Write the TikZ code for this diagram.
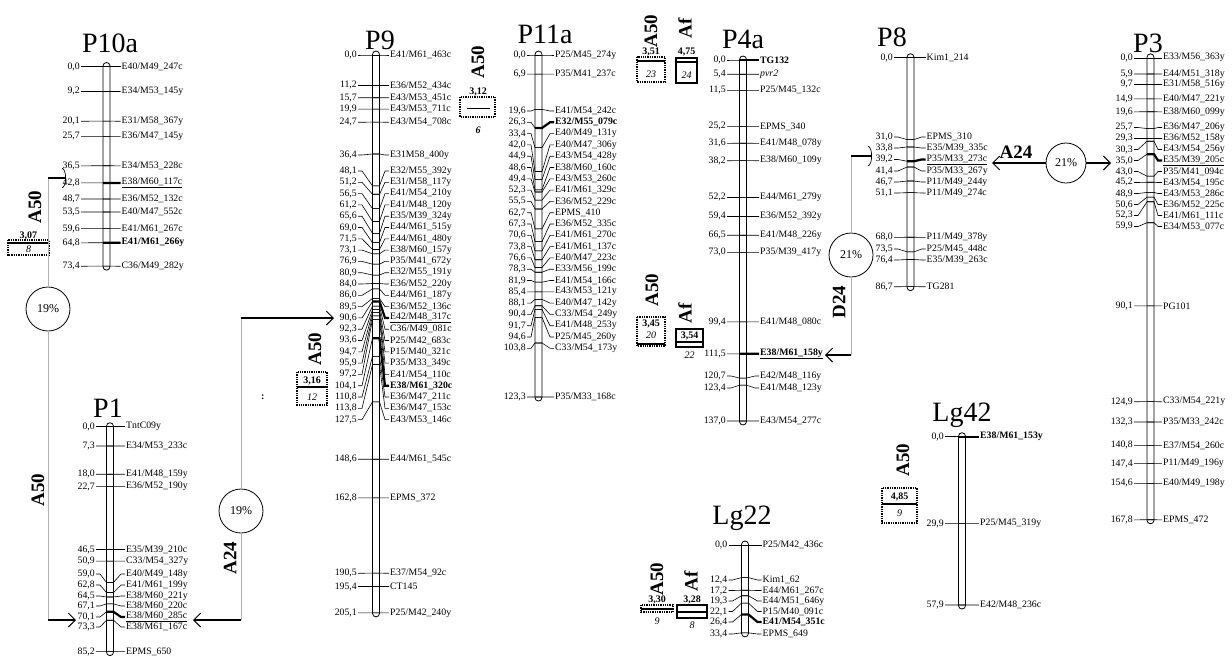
\documentclass[tikz,border=0pt]{standalone}
\usepackage{fontspec}
\setmainfont{Liberation Serif}
\usetikzlibrary{arrows.meta,calc}

\newcounter{mk}
% parametros del cromosoma: centro x, y del 0,0, px por cM, borde de las posiciones, inicio de los nombres
\newcommand{\setcrom}[5]{\def\cx{#1}\def\ctop{#2}\def\cesc{#3}\def\nx{#4}\def\lx{#5}}
% barra del cromosoma y su titulo
\newcommand{\crom}[4]{%
  \pgfmathsetmacro{\ybot}{\ctop+\cesc*#1}
  \draw[barra] (\cx-3.5,\ctop-4) rectangle (\cx+3.5,\ybot+4);
  \node[titulo] (t#4) at (#2,#3) {#4};
}
% marcador: [estilo] cM, y de la etiqueta, posicion, nombre
\newcommand{\mk}[5][]{%
  \pgfmathsetmacro{\ty}{\ctop+\cesc*#2}
  \draw[tick] (\nx+1,#3) -- (\nx+5,#3) -- (\cx-3.5,\ty) -- (\cx+3.5,\ty);
  \draw[tick,#1] (\cx-3.5,\ty) -- (\cx+3.5,\ty) -- (\lx-5,#3) -- (\lx-1,#3);
  \stepcounter{mk}
  \node[num] (n\themk) at (\nx,#3) {#4};
  \node[lab] (m\themk) at (\lx,#3) {#5};
}

\tikzset{
  barra/.style={draw,line width=0.8pt,fill=white,rounded corners=3.5pt},
  tick/.style={line width=0.6pt},
  grueso/.style={line width=2.2pt},
  num/.style={anchor=east,inner sep=0pt,font=\fontsize{9.8}{10}\selectfont},
  lab/.style={anchor=west,inner sep=0pt,font=\fontsize{9.8}{10}\selectfont},
  titulo/.style={inner sep=0pt,font=\fontsize{28}{30}\selectfont},
  qtl/.style={rotate=90,inner sep=0pt,font=\bfseries\fontsize{19}{20}\selectfont},
  pct/.style={draw,circle,fill=white,line width=0.8pt,minimum size=44pt,inner sep=0pt,font=\fontsize{12}{12}\selectfont},
  lod/.style={inner sep=0pt,font=\bfseries\fontsize{10}{10}\selectfont},
  npos/.style={inner sep=0pt,font=\itshape\fontsize{10}{10}\selectfont},
  cajap/.style={draw,densely dotted,line width=1.3pt},
  cajaf/.style={draw,line width=1.1pt},
  lodl/.style={line width=2pt},
  flecha/.style={line width=1.6pt},
}

\begin{document}
\begin{tikzpicture}[x=1pt,y=-1pt]
    \colorlet{lineagris}{gray!60}
    \fill[white] (0,0) rectangle (1232,657);
    \useasboundingbox (0,0) rectangle (1232,657);

    % Cromosoma P10a
    \setcrom{106.5}{66.5}{2.72}{80}{121.5}
    \crom{73.4}{110}{43}{P10a}
    \mk{0}{66.5}{0,0}{E40/M49\_247c}
    \mk{9.2}{91.5}{9,2}{E34/M53\_145y}
    \mk{20.1}{121.2}{20,1}{E31/M58\_367y}
    \mk{25.7}{136.4}{25,7}{E36/M47\_145y}
    \mk{36.5}{165.8}{36,5}{E34/M53\_228c}
    \mk[grueso]{42.8}{182.9}{42,8}{\underline{E38/M60\_117c}}
    \mk{48.7}{199}{48,7}{E36/M52\_132c}
    \mk{53.5}{212}{53,5}{E40/M47\_552c}
    \mk{59.6}{228.6}{59,6}{E41/M61\_267c}
    \mk[grueso]{64.8}{242.8}{64,8}{\textbf{E41/M61\_266y}}
    \mk{73.4}{266.2}{73,4}{C36/M49\_282y}

    % Cromosoma P1
    \setcrom{110}{426.7}{2.64}{95}{126}
    \crom{85.2}{108}{408}{P1}
    \mk{0}{426.7}{0,0}{TntC09y}
    \mk{7.3}{446}{7,3}{E34/M53\_233c}
    \mk{18.0}{474.2}{18,0}{E41/M48\_159y}
    \mk{22.7}{486.6}{22,7}{E36/M52\_190y}
    \mk{46.5}{549.5}{46,5}{E35/M39\_210c}
    \mk{50.9}{561.1}{50,9}{C33/M54\_327y}
    \mk{59.0}{574}{59,0}{E40/M49\_148y}
    \mk{62.8}{585}{62,8}{E41/M61\_199y}
    \mk{64.5}{596}{64,5}{E38/M60\_221y}
    \mk{67.1}{606}{67,1}{E38/M60\_220c}
    \mk[grueso]{70.1}{617}{70,1}{\underline{E38/M60\_285c}}
    \mk{73.3}{627}{73,3}{E38/M61\_167c}
    \mk{85.2}{651.6}{85,2}{EPMS\_650}

    % Cromosoma P9
    \setcrom{376}{55}{2.72}{357}{390}
    \crom{205.1}{380}{40}{P9}
    \mk{0}{55}{0,0}{E41/M61\_463c}
    \mk{11.2}{85.5}{11,2}{E36/M52\_434c}
    \mk{15.7}{97.7}{15,7}{E43/M53\_451c}
    \mk{19.9}{109.1}{19,9}{E43/M53\_711c}
    \mk{24.7}{122.2}{24,7}{E43/M54\_708c}
    \mk{36.4}{155}{36,4}{E31M58\_400y}
    \mk{48.1}{171}{48,1}{E32/M55\_392y}
    \mk{51.2}{182.3}{51,2}{E31/M58\_117y}
    \mk{56.5}{193.6}{56,5}{E41/M54\_210y}
    \mk{61.2}{204.9}{61,2}{E41/M48\_120y}
    \mk{65.6}{216.2}{65,6}{E35/M39\_324y}
    \mk{69.0}{227.5}{69,0}{E44/M61\_515y}
    \mk{71.5}{238.8}{71,5}{E44/M61\_480y}
    \mk{73.1}{250.1}{73,1}{E38/M60\_157y}
    \mk{76.9}{261.4}{76,9}{P35/M41\_672y}
    \mk{80.9}{272.7}{80,9}{E32/M55\_191y}
    \mk{84.0}{284}{84,0}{E36/M52\_220y}
    \mk{86.0}{295.3}{86,0}{E44/M61\_187y}
    \mk{89.5}{306.6}{89,5}{E36/M52\_136c}
    \mk[grueso]{90.6}{317.9}{90,6}{\underline{E42/M48\_317c}}
    \mk{92.3}{329.2}{92,3}{C36/M49\_081c}
    \mk{93.6}{340.5}{93,6}{P25/M42\_683c}
    \mk{94.7}{351.8}{94,7}{P15/M40\_321c}
    \mk{95.9}{363.1}{95,9}{P35/M33\_349c}
    \mk{97.2}{374.4}{97,2}{E41/M54\_110c}
    \mk[grueso]{104.1}{385.7}{104,1}{\textbf{E38/M61\_320c}}
    \mk{110.8}{397}{110,8}{E36/M47\_211c}
    \mk{113.8}{408.3}{113,8}{E36/M47\_153c}
    \mk{127.5}{419.6}{127,5}{E43/M53\_146c}
    \mk{148.6}{459.2}{148,6}{E44/M61\_545c}
    \mk{162.8}{497.8}{162,8}{EPMS\_372}
    \mk{190.5}{573.2}{190,5}{E37/M54\_92c}
    \mk{195.4}{586.5}{195,4}{CT145}
    \mk{205.1}{612.9}{205,1}{P25/M42\_240y}

    % Cromosoma P11a
    \setcrom{538.5}{55}{2.774}{526}{555}
    \crom{123.3}{545}{34}{P11a}
    \mk{0}{55}{0,0}{P25/M45\_274y}
    \mk{6.9}{74.1}{6,9}{P35/M41\_237c}
    \mk{19.6}{111}{19,6}{E41/M54\_242c}
    \mk[grueso]{26.3}{122.3}{26,3}{\textbf{E32/M55\_079c}}
    \mk{33.4}{133.6}{33,4}{E40/M49\_131y}
    \mk{42.0}{144.9}{42,0}{E40/M47\_306y}
    \mk{44.9}{156.2}{44,9}{E43/M54\_428y}
    \mk{48.6}{167.5}{48,6}{E38/M60\_160c}
    \mk{49.4}{178.8}{49,4}{E43/M53\_260c}
    \mk{52.3}{190.1}{52,3}{E41/M61\_329c}
    \mk{55.5}{201.4}{55,5}{E36/M52\_229c}
    \mk{62.7}{212.7}{62,7}{EPMS\_410}
    \mk{67.3}{224}{67,3}{E36/M52\_335c}
    \mk{70.6}{235.3}{70,6}{E41/M61\_270c}
    \mk{73.8}{246.6}{73,8}{E41/M61\_137c}
    \mk{76.6}{257.9}{76,6}{E40/M47\_223c}
    \mk{78.3}{269.2}{78,3}{E33/M56\_199c}
    \mk{81.9}{280.5}{81,9}{E41/M54\_166c}
    \mk{85.4}{291.8}{85,4}{E43/M53\_121y}
    \mk{88.1}{303.1}{88,1}{E40/M47\_142y}
    \mk{90.4}{314.4}{90,4}{C33/M54\_249y}
    \mk{91.7}{325.7}{91,7}{E41/M48\_253y}
    \mk{94.6}{337}{94,6}{P25/M45\_260y}
    \mk{103.8}{348.3}{103,8}{C33/M54\_173y}
    \mk{123.3}{397}{123,3}{P35/M33\_168c}

    % Cromosoma P4a
    \setcrom{743}{60}{2.635}{726}{760}
    \crom{137}{743}{39}{P4a}
    \mk[grueso]{0}{60}{0,0}{\textbf{TG132}}
    \mk{5.4}{74.2}{5,4}{\textit{pvr2}}
    \mk{11.5}{90.3}{11,5}{P25/M45\_132c}
    \mk{25.2}{126.4}{25,2}{EPMS\_340}
    \mk{31.6}{143.3}{31,6}{E41/M48\_078y}
    \mk{38.2}{160.7}{38,2}{E38/M60\_109y}
    \mk{52.2}{197.5}{52,2}{E44/M61\_279y}
    \mk{59.4}{216.5}{59,4}{E36/M52\_392y}
    \mk{66.5}{235.2}{66,5}{E41/M48\_226y}
    \mk{73.0}{252.4}{73,0}{P35/M39\_417y}
    \mk{99.4}{321.9}{99,4}{E41/M48\_080c}
    \mk[grueso]{111.5}{353.8}{111,5}{\textbf{\underline{E38/M61\_158y}}}
    \mk{120.7}{376}{120,7}{E42/M48\_116y}
    \mk{123.4}{388}{123,4}{E41/M48\_123y}
    \mk{137.0}{421}{137,0}{E43/M54\_277c}

    % Cromosoma P8
    \setcrom{910.5}{57.7}{2.641}{893}{926.5}
    \crom{86.7}{892}{37}{P8}
    \mk{0}{57.7}{0,0}{Kim1\_214}
    \mk{31.0}{137}{31,0}{EPMS\_310}
    \mk{33.8}{148}{33,8}{E35/M39\_335c}
    \mk[grueso]{39.2}{159.5}{39,2}{\underline{P35/M33\_273c}}
    \mk{41.4}{171}{41,4}{P35/M33\_267y}
    \mk{46.7}{182}{46,7}{P11/M49\_244y}
    \mk{51.1}{193}{51,1}{P11/M49\_274c}
    \mk{68.0}{237.3}{68,0}{P11/M49\_378y}
    \mk{73.5}{249}{73,5}{P25/M45\_448c}
    \mk{76.4}{260}{76,4}{E35/M39\_263c}
    \mk{86.7}{286.7}{86,7}{TG281}

    % Cromosoma P3
    \setcrom{1150.5}{57.8}{2.753}{1133}{1163}
    \crom{167.8}{1148}{43}{P3}
    \mk{0}{57.8}{0,0}{E33/M56\_363y}
    \mk{5.9}{74}{5,9}{E44/M51\_318y}
    \mk{9.7}{84.5}{9,7}{E31/M58\_516y}
    \mk{14.9}{98.8}{14,9}{E40/M47\_221y}
    \mk{19.6}{111.8}{19,6}{E38/M60\_099y}
    \mk{25.7}{127.5}{25,7}{E36/M47\_206y}
    \mk{29.3}{138.5}{29,3}{E36/M52\_158y}
    \mk{30.3}{149.5}{30,3}{E43/M54\_256y}
    \mk[grueso]{35.0}{160.5}{35,0}{\underline{E35/M39\_205c}}
    \mk{43.0}{171.5}{43,0}{P35/M41\_094c}
    \mk{45.2}{182.5}{45,2}{E43/M54\_195c}
    \mk{48.9}{193.5}{48,9}{E43/M53\_286c}
    \mk{50.6}{204.5}{50,6}{E36/M52\_225c}
    \mk{52.3}{215.5}{52,3}{E41/M61\_111c}
    \mk{59.9}{226.5}{59,9}{E34/M53\_077c}
    \mk{90.1}{305.8}{90,1}{PG101}
    \mk{124.9}{401.7}{124,9}{C33/M54\_221y}
    \mk{132.3}{422}{132,3}{P35/M33\_242c}
    \mk{140.8}{445.4}{140,8}{E37/M54\_260c}
    \mk{147.4}{463.6}{147,4}{P11/M49\_196y}
    \mk{154.6}{483.4}{154,6}{E40/M49\_198y}
    \mk{167.8}{519.8}{167,8}{EPMS\_472}

    % Cromosoma Lg42
    \setcrom{962}{436.7}{2.907}{944}{980}
    \crom{57.9}{962}{415}{Lg42}
    \mk[grueso]{0}{436.7}{0,0}{\textbf{E38/M61\_153y}}
    \mk{29.9}{523.6}{29,9}{P25/M45\_319y}
    \mk{57.9}{605}{57,9}{E42/M48\_236c}

    % Cromosoma Lg22
    \setcrom{745}{545}{2.63}{727.5}{762.5}
    \crom{33.4}{742}{518}{Lg22}
    \mk{0}{545}{0,0}{P25/M42\_436c}
    \mk{12.4}{580}{12,4}{Kim1\_62}
    \mk{17.2}{590.5}{17,2}{E44/M61\_267c}
    \mk{19.3}{601}{19,3}{E44/M51\_646y}
    \mk{22.1}{611.5}{22,1}{P15/M40\_091c}
    \mk[grueso]{26.4}{622}{26,4}{\textbf{E41/M54\_351c}}
    \mk{33.4}{634}{33,4}{EPMS\_649}

    % QTL A50 en P10a
    \node[qtl] (qp10) at (35,207) {A50};
    \draw[cajap] (8,240) rectangle (49,255);
    \draw[lodl] (8,243) -- (49,243);
    \node[lod] (lp10) at (28.5,235.5) {3,07};
    \node[npos] (np10) at (28.5,249.5) {8};

    % QTL A50 en P9
    \node[qtl] (qp9) at (315,349) {A50};
    \draw[cajap] (297,372) rectangle (327,405);
    \draw[lodl] (297,387) -- (327,387);
    \node[lod] (lp9) at (312,380.5) {3,16};
    \node[npos] (np9) at (312,397) {12};
    \node[lod] (punto) at (262.7,397) {:};

    % QTL A50 en P11a
    \node[qtl] (qp11) at (478,62) {A50};
    \draw[cajap] (460,97) rectangle (495,117);
    \draw[tick] (467,108) -- (490,108);
    \node[lod] (lp11) at (478,92) {3,12};
    \node[lod,font=\bfseries\itshape\fontsize{10}{10}\selectfont] (np11) at (478,130) {6};

    % QTL A50 y Af arriba de P4a
    \node[qtl] (qp4a) at (651,31) {A50};
    \node[qtl] (qp4b) at (685,28) {Af};
    \draw[cajap] (637,57) rectangle (665,82);
    \draw[lodl] (637,61) -- (665,61);
    \node[lod] (lp4a) at (651,52) {3,51};
    \node[npos] (np4a) at (651,74) {23};
    \draw[cajaf] (676,58) rectangle (697,83);
    \draw[lodl] (676,62) -- (697,62);
    \node[lod] (lp4b) at (686.5,52) {4,75};
    \node[npos] (np4b) at (686.5,75) {24};

    % QTL A50 y Af en medio de P4a
    \node[qtl] (qp4c) at (652,290) {A50};
    \node[qtl] (qp4d) at (685,313) {Af};
    \draw[cajap] (637,317) rectangle (665,346);
    \draw[lodl] (637,343.5) -- (665,343.5);
    \node[lod] (lp4c) at (651,324) {3,45};
    \node[npos] (np4c) at (651,335) {20};
    \draw[cajaf] (676,329) rectangle (703,347);
    \draw[lodl] (676,342) -- (703,342);
    \node[lod] (lp4d) at (689.5,335.5) {3,54};
    \node[npos] (np4d) at (689.5,355) {22};

    % QTL A50 y Af en Lg22
    \node[qtl] (qlga) at (657,579) {A50};
    \node[qtl] (qlgb) at (691,581) {Af};
    \node[lod] (llga) at (657,600) {3,30};
    \draw[cajap] (641,605) rectangle (673,612);
    \draw[lodl] (641,608.5) -- (673,608.5);
    \node[npos] (nlga) at (657,621) {9};
    \node[lod] (llgb) at (692,600) {3,28};
    \draw[cajaf] (677,605) rectangle (707,618);
    \draw[lodl] (677,611.5) -- (707,611.5);
    \node[npos] (nlgb) at (692,625) {8};

    % QTL A50 en Lg42
    \node[qtl] (qlg4) at (903,460) {A50};
    \draw[cajap] (882,488) rectangle (917,523);
    \draw[lodl] (882,504.3) -- (917,504.3);
    \node[lod] (llg4) at (899.5,496.5) {4,85};
    \node[npos] (nlg4) at (899.5,513.5) {9};

    % Epistasis A50 entre P10a y P1
    \coordinate (a50i) at (48,178);
    \coordinate (a50f) at (48,620);
    \coordinate (a50p10) at (66,178);
    \coordinate (a50p1) at (76,620);
    \node[pct] (c19a) at (48,309) {19\%};
    \draw[lineagris] (a50i) -- (c19a) -- (a50f);
    \draw[flecha,-{Arc Barb[length=4pt,width=20pt,line width=0.7pt]}] (a50i) -- (a50p10);
    \draw[flecha,-{Straight Barb[length=7pt,width=14pt,line width=1pt]}] (a50f) -- (a50p1);
    \node[qtl] (qp1) at (38,490) {A50};

    % Epistasis A24 entre P1 y P9
    \coordinate (a24i) at (241,318);
    \coordinate (a24f) at (241,620);
    \coordinate (a24p9) at (334,318);
    \coordinate (a24p1) at (193,620);
    \node[pct] (c19b) at (241,511) {19\%};
    \draw[lineagris] (a24i) -- (c19b) -- (a24f);
    \draw[flecha,-{Straight Barb[length=7pt,width=14pt,line width=1pt]}] (a24i) -- (a24p9);
    \draw[flecha,-{Straight Barb[length=7pt,width=14pt,line width=1pt]}] (a24f) -- (a24p1);
    \node[qtl] (ta24a) at (230,558) {A24};

    % Epistasis D24 entre P8 y P4a
    \coordinate (d24i) at (851,156);
    \coordinate (d24f) at (851,355);
    \coordinate (d24p8) at (872,156);
    \coordinate (d24p4) at (825,355);
    \node[pct] (c21a) at (851,255) {21\%};
    \draw[lineagris] (d24i) -- (c21a) -- (d24f);
    \draw[flecha,-{Arc Barb[length=4pt,width=20pt,line width=0.7pt]}] (d24i) -- (d24p8);
    \draw[flecha,-{Straight Barb[length=7pt,width=14pt,line width=1pt]}] (d24f) -- (d24p4);
    \node[qtl] (td24) at (839,302) {D24};

    % Epistasis A24 entre P8 y P3
    \coordinate (a24p8) at (992,163);
    \coordinate (a24p3) at (1111,163);
    \node[pct,minimum size=40pt] (c21b) at (1066,163) {21\%};
    \draw[flecha,-{Straight Barb[length=7pt,width=14pt,line width=1pt]}] (c21b) -- (a24p8);
    \draw[flecha,-{Straight Barb[length=7pt,width=14pt,line width=1pt]}] (c21b) -- (a24p3);
    \node[inner sep=0pt,font=\bfseries\fontsize{19}{20}\selectfont] (ta24b) at (1016,152) {A24};

\end{tikzpicture}
\end{document}
